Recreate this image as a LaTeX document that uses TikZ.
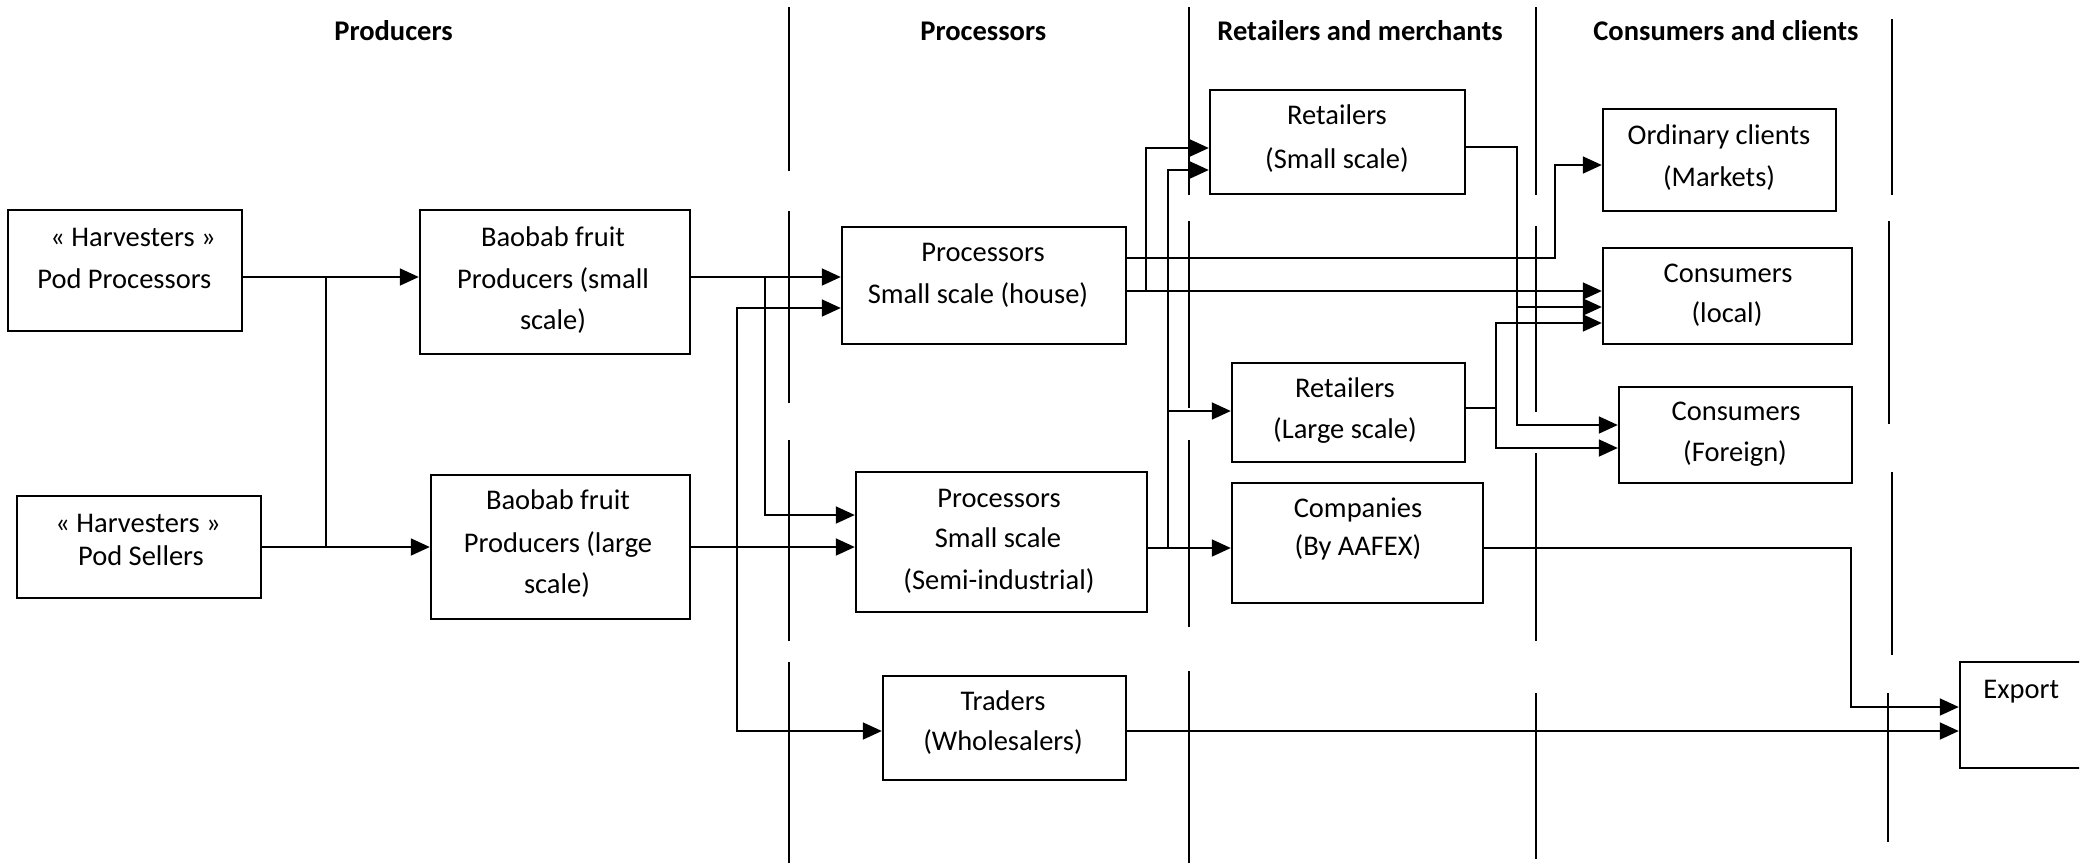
\documentclass[tikz,border=0pt]{standalone}
\usepackage{fontspec}
\setmainfont{Carlito}
\usetikzlibrary{arrows.meta}
\begin{document}
\begin{tikzpicture}[x=0.5pt,y=-0.5pt,
  box/.style={draw, line width=1.2pt, inner sep=0pt},
  txt/.style={inner sep=0pt, anchor=mid, font=\fontsize{14.25}{17}\selectfont},
  txtl/.style={inner sep=0pt, anchor=mid west, font=\fontsize{14.25}{17}\selectfont},
  hdr/.style={inner sep=0pt, anchor=mid west, font=\bfseries\fontsize{14.25}{17}\selectfont},
  conn/.style={line width=0.9pt},
  arr/.style={line width=0.9pt, -{Triangle[length=9.5pt,width=8.5pt]}},
  divider/.style={line width=0.9pt}]
\useasboundingbox (0,0) rectangle (2089,863);
\clip (0,0) rectangle (2089,863);
\fill[white] (0,0) rectangle (2089,863);

% column dividers
\foreach \a/\b in {7/171,211/403,440/641,662/863} \draw[divider] (789,\a) -- (789,\b);
\foreach \a/\b in {7/195,221/408,440/627,671/863} \draw[divider] (1189,\a) -- (1189,\b);
\foreach \a/\b in {7/195,226/412,453/641,693/859} \draw[divider] (1536,\a) -- (1536,\b);
\draw[divider] (1892,19) -- (1892,195);
\draw[divider] (1889,221) -- (1889,424);
\draw[divider] (1892,472) -- (1892,655);
\draw[divider] (1888,693) -- (1888,842);

% headers
\node[hdr] (hprod) at (334,36) {Producers};
\node[hdr] (hproc) at (920,36) {Processors};
\node[hdr] (hret) at (1217,36) {Retailers and merchants};
\node[hdr] (hcons) at (1593,36) {Consumers and clients};

% boxes
\node[box, minimum width=117pt, minimum height=60.5pt] (hpp) at (125,270.5) {};
\node[box, minimum width=122pt, minimum height=51pt] (hps) at (139,547) {};
\node[box, minimum width=135pt, minimum height=72pt] (bs) at (555,282) {};
\node[box, minimum width=129.5pt, minimum height=72pt] (bl) at (560.5,547) {};
\node[box, minimum width=142pt, minimum height=58.5pt] (ph) at (984,285.5) {};
\node[box, minimum width=145.5pt, minimum height=70pt] (pi) at (1001.5,542) {};
\node[box, minimum width=121.5pt, minimum height=52pt] (tr) at (1004.5,728) {};
\node[box, minimum width=127.5pt, minimum height=52pt] (rs) at (1337.5,142) {};
\node[box, minimum width=116.5pt, minimum height=49.5pt] (rl) at (1348.5,412.5) {};
\node[box, minimum width=125.5pt, minimum height=60pt] (co) at (1357.5,543) {};
\node[box, minimum width=116.5pt, minimum height=51pt] (oc) at (1719.5,160) {};
\node[box, minimum width=124.5pt, minimum height=48pt] (cl) at (1727.5,296) {};
\node[box, minimum width=116.5pt, minimum height=48pt] (cf) at (1735.5,435) {};
\begin{scope}
\clip (1940,640) rectangle (2079,790);
\node[box, minimum width=90pt, minimum height=53pt] (ex) at (2050,715) {};
\end{scope}

% texts
\node[txtl] (thpp1) at (50,242) {« Harvesters »};
\node[txtl] (thpp2) at (37,284) {Pod Processors};
\node[txt] (thps1) at (138,528) {« Harvesters »};
\node[txt] (thps2) at (141,561) {Pod Sellers};
\node[txt] (tbs1) at (553,242) {Baobab fruit};
\node[txt] (tbs2) at (553,284) {Producers (small};
\node[txt] (tbs3) at (553,325) {scale)};
\node[txt] (tbl1) at (558,505) {Baobab fruit};
\node[txt] (tbl2) at (558,548) {Producers (large};
\node[txt] (tbl3) at (557,589) {scale)};
\node[txt] (tph1) at (983,257) {Processors};
\node[txt] (tph2) at (978,299) {Small scale (house)};
\node[txt] (tpi1) at (999,503) {Processors};
\node[txt] (tpi2) at (998,543) {Small scale};
\node[txt] (tpi3) at (999,585) {(Semi-industrial)};
\node[txt] (ttr1) at (1003,706) {Traders};
\node[txt] (ttr2) at (1003,746) {(Wholesalers)};
\node[txt] (trs1) at (1337,120) {Retailers};
\node[txt] (trs2) at (1337,164) {(Small scale)};
\node[txt] (trl1) at (1345,393) {Retailers};
\node[txt] (trl2) at (1345,434) {(Large scale)};
\node[txt] (tco1) at (1358,513) {Companies};
\node[txt] (tco2) at (1358,551) {(By AAFEX)};
\node[txt] (toc1) at (1719,140) {Ordinary clients};
\node[txt] (toc2) at (1719,182) {(Markets)};
\node[txt] (tcl1) at (1728,278) {Consumers};
\node[txt] (tcl2) at (1727,318) {(local)};
\node[txt] (tcf1) at (1736,416) {Consumers};
\node[txt] (tcf2) at (1735,457) {(Foreign)};
\node[txtl] (tex1) at (1983,694) {Export};

% producers level
\draw[arr] (hpp.east |- 0,277) -- (bs.west |- 0,277);
\draw[arr] (hps.east |- 0,547) -- (bl.west |- 0,547);
\coordinate (j1) at (326,277);
\coordinate (j2) at (326,547);
\draw[conn] (j1) -- (j2);

% to processors and traders
\draw[arr] (bs.east |- 0,277) -- (ph.west |- 0,277);
\coordinate (j3) at (765,277);
\draw[arr] (j3) |- (pi.west |- 0,515);
\draw[arr] (bl.east |- 0,547) -- (pi.west |- 0,547);
\coordinate (j4) at (737,547);
\draw[arr] (j4) |- (ph.west |- 0,308);
\draw[arr] (j4) |- (tr.west |- 0,731);

% from small-scale house processors
\draw[arr] (ph.east |- 0,291) -- (cl.west |- 0,291);
\coordinate (j5) at (1146,291);
\draw[arr] (j5) |- (rs.west |- 0,148);
\coordinate (b1) at (1555,258);
\draw[arr] (ph.east |- b1) -- (b1) |- (oc.west |- 0,165);

% from semi-industrial processors
\draw[arr] (pi.east |- 0,548) -- (co.west |- 0,548);
\coordinate (j7) at (1168,548);
\draw[arr] (j7) |- (rl.west |- 0,411);
\draw[arr] (j7) |- (rs.west |- 0,170);

% from small retailers
\coordinate (b2) at (1517,147);
\draw[arr] (rs.east |- b2) -- (b2) |- (cf.west |- 0,425);
\coordinate (j8) at (1517,307);
\draw[arr] (j8) -- (cl.west |- j8);

% from large retailers
\coordinate (b3) at (1496,408);
\coordinate (b3t) at (1496,323);
\coordinate (b3b) at (1496,448);
\draw[conn] (rl.east |- b3) -- (b3);
\draw[arr] (b3) -- (b3t) -- (cl.west |- b3t);
\draw[arr] (b3) -- (b3b) -- (cf.west |- b3b);

% to export
\coordinate (b4) at (1851,548);
\draw[arr] (co.east |- b4) -- (b4) |- (ex.west |- 0,707);
\draw[arr] (tr.east |- 0,731) -- (ex.west |- 0,731);
\end{tikzpicture}
\end{document}
